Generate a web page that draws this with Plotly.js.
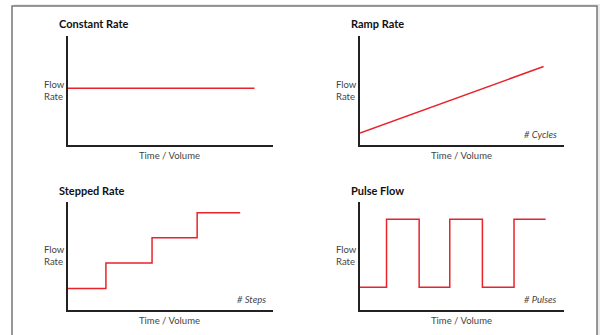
<!DOCTYPE html>
<html><head><meta charset="utf-8">
<script src="https://cdn.plot.ly/plotly-3.0.1.min.js"></script>
<style>html,body{margin:0;padding:0;background:#fff}#c{width:603px;height:335px}</style>
</head><body><div id="c"></div>
<script>
// ---- data (arbitrary units, 0-100 on both axes) ----
const constantX = [0, 91];
const constantY = [52, 52];
const rampX = [0, 90];
const rampY = [11, 72];
const steppedX = [0, 18.5, 41, 63, 84];
const steppedY = [20, 43.5, 67, 90, 90];
const pulseX = [0, 13, 29, 44, 60, 75.5, 91];
const pulseY = [21, 84, 21, 84, 21, 84, 84];
const panelTitles = ["Constant Rate", "Ramp Rate", "Stepped Rate", "Pulse Flow"];
const countLabels = ["", "# Cycles", "# Steps", "# Pulses"];
const yLabel = "Flow<br>Rate";
const xLabel = "Time / Volume";

const W = 603, H = 335;
const px = v => v / W, py = v => 1 - v / H;
const red = '#e8232c';
const fnt = 'Lato, "DejaVu Sans", sans-serif';

// panel geometry in pixels: [xLeft, xRight, yTop, yBottom]
const geo = [[68, 273, 36, 145], [360, 564, 36, 145], [68, 273, 202, 310], [360, 564, 202, 310]];

const traces = [
  {x: constantX, y: constantY, xaxis: 'x', yaxis: 'y', mode: 'lines', line: {color: red, width: 1.5}},
  {x: rampX, y: rampY, xaxis: 'x2', yaxis: 'y2', mode: 'lines', line: {color: red, width: 1.5}},
  {x: steppedX, y: steppedY, xaxis: 'x3', yaxis: 'y3', mode: 'lines', line: {color: red, width: 1.5, shape: 'hv'}},
  {x: pulseX, y: pulseY, xaxis: 'x4', yaxis: 'y4', mode: 'lines', line: {color: red, width: 1.5, shape: 'hv'}}
];

const layout = {
  width: W, height: H, margin: {l: 0, r: 0, t: 0, b: 0},
  paper_bgcolor: '#fff', plot_bgcolor: 'rgba(0,0,0,0)', showlegend: false,
  font: {family: fnt, color: '#333', size: 9},
  annotations: [], shapes: []
};

geo.forEach((g, i) => {
  const s = i === 0 ? '' : String(i + 1);
  layout['xaxis' + s] = {domain: [px(g[0]), px(g[1])], range: [0, 100], anchor: 'y' + s,
    showline: true, linecolor: '#222', linewidth: 2, showgrid: false, zeroline: false,
    showticklabels: false, ticks: '', fixedrange: true};
  layout['yaxis' + s] = {domain: [py(g[3]), py(g[2])], range: [0, 100], anchor: 'x' + s,
    showline: true, linecolor: '#222', linewidth: 2, showgrid: false, zeroline: false,
    showticklabels: false, ticks: '', fixedrange: true};
  // title
  layout.annotations.push({xref: 'paper', yref: 'paper', x: px(g[0] - 11), y: py(g[2] - 12),
    xanchor: 'left', yanchor: 'middle', showarrow: false, text: '<b>' + panelTitles[i] + '</b>',
    font: {size: 11, color: '#111', family: fnt}});
  // y label
  layout.annotations.push({xref: 'paper', yref: 'paper', x: px(g[0] - 26), y: py((g[2] + g[3]) / 2 - 0.5),
    xanchor: 'left', yanchor: 'middle', align: 'left', showarrow: false, text: yLabel,
    font: {size: 9.5, color: '#444', family: fnt}});
  // x label
  layout.annotations.push({xref: 'paper', yref: 'paper', x: px(g[0] + 101), y: py(g[3] + 10),
    xanchor: 'center', yanchor: 'middle', showarrow: false, text: xLabel,
    font: {size: 9.5, color: '#444', family: fnt}});
  if (countLabels[i]) {
    layout.annotations.push({xref: 'paper', yref: 'paper', x: px(g[1] - 5), y: py(g[3] - 11),
      xanchor: 'right', yanchor: 'middle', showarrow: false, text: '<i>' + countLabels[i] + '</i>',
      font: {size: 9.5, color: '#444', family: fnt}});
  }
});

// outer frame with light shadow
layout.shapes.push({type: 'rect', xref: 'paper', yref: 'paper', x0: px(14), x1: px(600), y0: py(345), y1: py(4),
  line: {width: 0}, fillcolor: 'rgba(0,0,0,0.08)', layer: 'below'});
layout.shapes.push({type: 'rect', xref: 'paper', yref: 'paper', x0: px(12), x1: px(597), y0: py(345), y1: py(6),
  line: {color: '#777', width: 1.5}, fillcolor: '#fff', layer: 'below'});

Plotly.newPlot('c', traces, layout, {displayModeBar: false, staticPlot: true});
</script></body></html>
